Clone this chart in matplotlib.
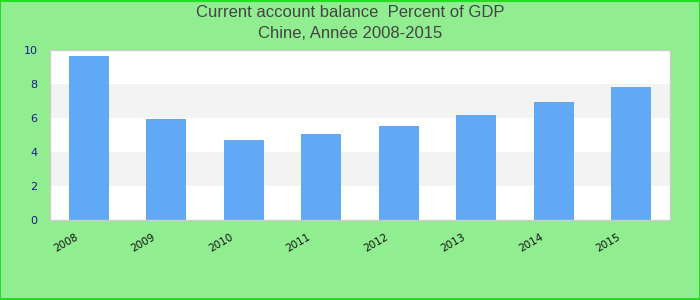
import matplotlib
matplotlib.use("Agg")
import matplotlib.pyplot as plt
import matplotlib.transforms as mtransforms

years = ["2008", "2009", "2010", "2011", "2012", "2013", "2014", "2015"]
values = [9.65, 5.94, 4.70, 5.06, 5.53, 6.18, 6.94, 7.82]
yticks = [0, 2, 4, 6, 8, 10]
title = "Current account balance  Percent of GDP\nChine, Année 2008-2015"

fig = plt.figure(figsize=(7, 3), dpi=100, facecolor="#90EE90")
fig.patches.append(plt.Rectangle((0.0007, 0.0017), 0.9986, 0.9966, transform=fig.transFigure,
                                 fill=False, edgecolor="#22dd22", linewidth=1.5))
ax = fig.add_axes([50/700, 80/300, 620/700, 170/300])
ax.set_facecolor("white")

for i in range(0, 10, 2):
    if (i // 2) % 2 == 1:
        ax.axhspan(i, i + 2, color="#f3f3f3", zorder=0, linewidth=0)

x = list(range(len(years)))
ax.bar(x, values, width=0.52, color="#62a9f5", zorder=2)
ax.set_xlim(-0.5, len(years) - 0.5)
ax.set_ylim(0, 10)
ax.set_yticks(yticks)
ax.set_yticklabels([str(t) for t in yticks], color="#1a1a8c", fontsize=8)
ax.set_xticks(x)
ax.set_xticklabels([])
base = mtransforms.blended_transform_factory(ax.transData, ax.transAxes)
offset = mtransforms.ScaledTranslation(-23/100, -23/100, fig.dpi_scale_trans)
for xi, yr in zip(x, years):
    ax.text(xi, 0, yr, transform=base + offset, rotation=30, ha="center", va="center",
            fontsize=7.5, color="#111111")
ax.tick_params(axis="both", length=0)
ax.tick_params(axis="y", pad=9)
for s in ax.spines.values():
    s.set_color("#cccccc")
    s.set_linewidth(1)

fig.text(0.5, 1 - 23/300, title, ha="center", va="center", fontsize=12,
         family="Liberation Sans", color="#444444", linespacing=1.45)

fig.savefig("out.png", dpi=100, facecolor=fig.get_facecolor())
